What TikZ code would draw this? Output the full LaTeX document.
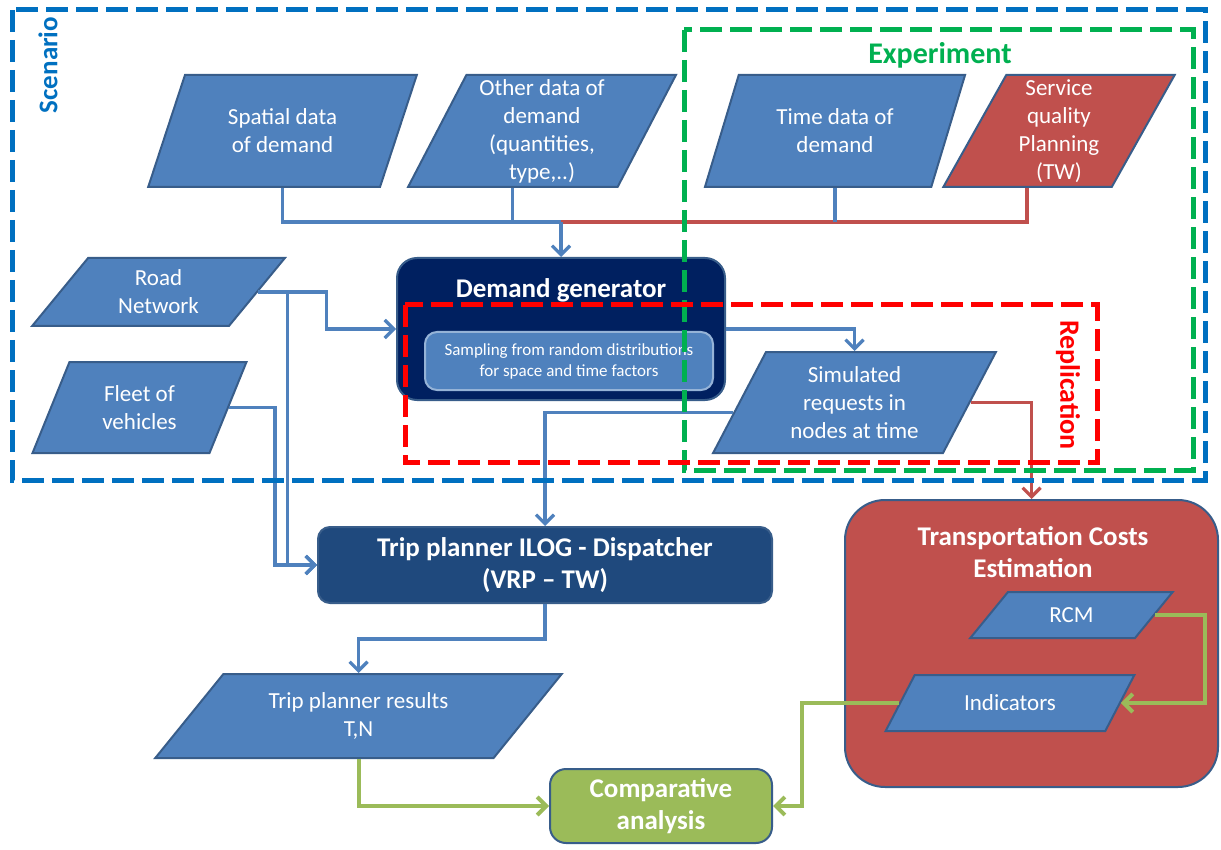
\documentclass[tikz,border=0pt]{standalone}
\usepackage{fontspec}
\setmainfont{Carlito}
\usepackage{tikz}
\usetikzlibrary{shapes.geometric, arrows.meta, positioning, calc}
\definecolor{datacolor}{RGB}{79,129,189}
\definecolor{edgecolor}{RGB}{56,93,138}
\definecolor{navycolor}{RGB}{0,32,96}
\definecolor{tripcolor}{RGB}{31,73,125}
\definecolor{costcolor}{RGB}{192,80,77}
\definecolor{resultcolor}{RGB}{155,187,89}
\definecolor{scenariocolor}{RGB}{0,112,192}
\definecolor{experimentcolor}{RGB}{0,176,80}
\definecolor{replicationcolor}{RGB}{255,0,0}

\begin{document}
\begin{tikzpicture}[
    x=0.5pt, y=-0.5pt,
    dataio/.style={trapezium, trapezium stretches=true, draw=edgecolor, line width=1pt, fill=datacolor, text=white, align=center, inner sep=0pt, font=\fontsize{11.5}{14}\selectfont},
    slant/.code={\pgfmathsetmacro\slantright{180-#1}\pgfkeysalso{trapezium left angle=#1, trapezium right angle=\slantright}},
    process/.style={draw=edgecolor, line width=1pt, rounded corners=6pt, text=white, align=center, font=\fontsize{13.5}{16}\selectfont\bfseries},
    title/.style={text=white, align=center, font=\fontsize{13.5}{16}\selectfont\bfseries},
    flow/.style={line width=1.6pt, datacolor},
    flowarrow/.style={flow, -{Straight Barb[length=4.5pt, width=9pt]}},
    frame/.style={line width=2.5pt, dash pattern=on 11pt off 4pt}
]
    \useasboundingbox (0,0) rectangle (1221,850);

    % Input data
    \node[dataio, slant=65, minimum width=134.5pt, minimum height=56pt] (spatial) at (282.5,131) {Spatial data\\of demand};
    \node[dataio, slant=65, minimum width=134pt, minimum height=56pt] (other) at (542,131) {Other data of\\demand\\(quantities,\\type,..)};
    \node[dataio, slant=65, minimum width=130.5pt, minimum height=56pt] (timedata) at (835,131) {Time data of\\demand};
    \node[dataio, slant=65, fill=costcolor, minimum width=116pt, minimum height=56pt] (service) at (1059,131) {Service\\quality\\Planning\\(TW)};
    \node[dataio, slant=54, minimum width=126.5pt, minimum height=34pt] (road) at (158.5,292) {Road\\Network};
    \node[dataio, slant=66, minimum width=107.5pt, minimum height=45.5pt] (fleet) at (139.5,407.5) {Fleet of\\vehicles};

    % Demand generator
    \node[process, fill=navycolor, minimum width=164pt, minimum height=71pt, rounded corners=10pt] (demgen) at (561,329) {};
    \node[title] (demgentitle) at (561,290) {Demand generator};
    \node[process, fill=datacolor, draw=datacolor!60!white, minimum width=144pt, minimum height=29pt, font=\fontsize{8.5}{10.5}\selectfont] (sampling) at (569,361) {Sampling from random distributions\\for space and time factors};
    \node[dataio, slant=62, minimum width=141.5pt, minimum height=50.5pt] (sim) at (854.5,402.5) {Simulated\\requests in\\nodes at time};

    % Planning
    \node[process, fill=tripcolor, minimum width=227pt, minimum height=38pt] (trip) at (545,565) {Trip planner ILOG - Dispatcher\\(VRP -- TW)};
    \node[dataio, slant=46, minimum width=203.5pt, minimum height=42pt] (results) at (358.5,716) {Trip planner results\\T,N};

    % Costs
    \node[process, fill=costcolor, minimum width=186.5pt, minimum height=143.5pt, rounded corners=20pt] (tce) at (1031.5,643.5) {};
    \node[title] (tcetitle) at (1033,552) {Transportation Costs\\Estimation};
    \node[dataio, slant=49, minimum width=101.5pt, minimum height=23pt] (rcm) at (1071.5,615) {RCM};
    \node[dataio, slant=49, minimum width=125pt, minimum height=28pt] (ind) at (1010,703) {Indicators};
    \node[process, fill=resultcolor, minimum width=111pt, minimum height=37pt, rounded corners=8pt] (comp) at (661,806) {Comparative\\analysis};

    % Connections
    \coordinate (merge) at (561,222);
    \draw[flow] (spatial.south) |- (merge);
    \draw[flow] (other.bottom side) |- (merge);
    \draw[flow, costcolor] (service.bottom side) |- (merge);
    \draw[flow] (timedata.south) -- (timedata.south |- merge);
    \draw[flowarrow] (merge) -- (demgen.north);
    \draw[flowarrow] (road.right side) -- ++(68,0) |- (demgen.west);
    \draw[flowarrow] ([xshift=14.5pt]road.right side) |- (trip.west);
    \draw[flowarrow] (fleet.right side) -- ++(46,0) |- (trip.west);
    \draw[flowarrow] (demgen.east) -| (sim.north);
    \draw[flowarrow] ($(sim.bottom left corner)!0.4!(sim.top left corner)$) -| (trip.north);
    \draw[flowarrow, costcolor] (sim.right side) -| (tce.north);
    \draw[flowarrow] (trip.south) -- ++(0,35) -| (results.north);
    \draw[flowarrow, resultcolor, line width=2pt] (results.south) |- (comp.west);
    \draw[flowarrow, resultcolor, line width=2pt] (rcm.right side) -- ++(50,0) |- (ind.right side);
    \draw[flowarrow, resultcolor, line width=2pt] (ind.left side) -- ++(-97,0) |- (comp.east);

    % Frames
    \draw[frame, scenariocolor] (12,10) rectangle (1205,480);
    \draw[frame, experimentcolor] (684,30) rectangle (1193,470);
    \draw[frame, replicationcolor] (405,305) rectangle (1097,462);
    \node[rotate=90, text=scenariocolor, font=\fontsize{13.5}{15}\selectfont\bfseries] (scenariolabel) at (48,65) {Scenario};
    \node[text=experimentcolor, font=\fontsize{15}{17}\selectfont\bfseries] (experimentlabel) at (940,55) {Experiment};
    \node[rotate=-90, text=replicationcolor, font=\fontsize{14}{16}\selectfont\bfseries] (replicationlabel) at (1068,385) {Replication};
\end{tikzpicture}
\end{document}
